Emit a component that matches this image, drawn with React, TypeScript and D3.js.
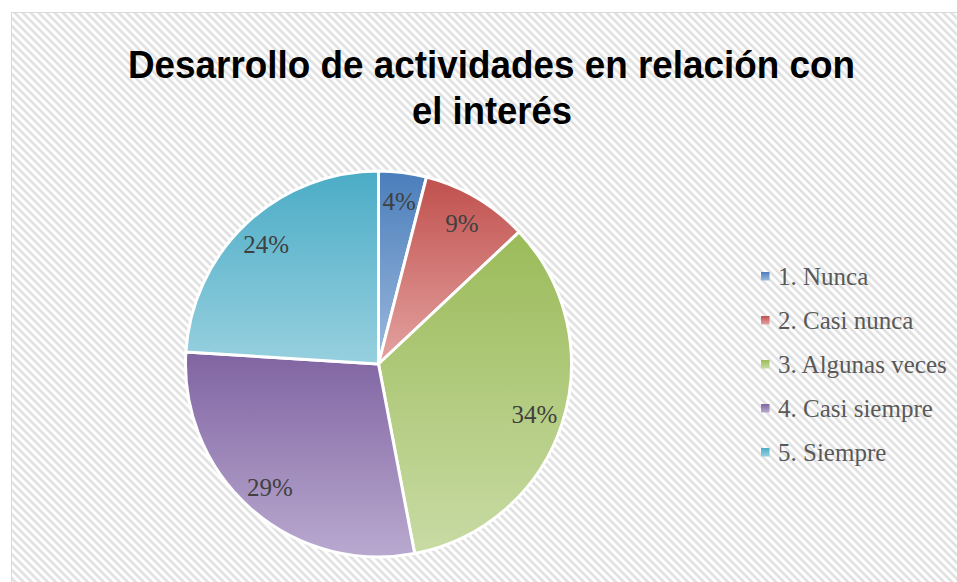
import React from "react";
import * as d3 from "d3";

const categories = ["1. Nunca", "2. Casi nunca", "3. Algunas veces", "4. Casi siempre", "5. Siempre"];
const values = [4, 9, 34, 29, 24];
const topColors = ["#4a7ebb", "#c0504d", "#9bbb59", "#8064a2", "#4bacc6"];
const bottomColors = ["#9db9dd", "#e4a3a1", "#c8dba4", "#b9a9cf", "#97d0df"];
const titleLines = ["Desarrollo de actividades en relación con", "el interés"];

const W = 957;
const H = 582;

export default function App() {
  const cx = 378.5;
  const cy = 364;
  const R = 193;
  const pie = d3.pie<number>().sort(null).value((d) => d);
  const arcs = pie(values);
  const arc = d3.arc<d3.PieArcDatum<number>>().innerRadius(0).outerRadius(R);
  const labelArc = d3.arc<d3.PieArcDatum<number>>().innerRadius(R * 0.85).outerRadius(R * 0.85);
  const total = d3.sum(values);
  const legendY = d3.scaleBand<number>().domain(d3.range(categories.length)).range([254.5, 474.5]);

  return (
    <svg width={W} height={H} style={{ position: "absolute", left: 0, top: 0, display: "block" }}>
      <defs>
        <pattern id="hatch" patternUnits="userSpaceOnUse" width={5.66} height={5.66} patternTransform="rotate(-45)">
          <rect x={0} y={0} width={5.66} height={5.66} fill="#ffffff" />
          <rect x={0} y={0} width={2.6} height={5.66} fill="#e0e0e0" />
        </pattern>
        {values.map((_, i) => (
          <linearGradient key={i} id={`g${i}`} x1="0" y1="0" x2="0" y2="1">
            <stop offset="0" stopColor={topColors[i]} />
            <stop offset="1" stopColor={bottomColors[i]} />
          </linearGradient>
        ))}
      </defs>
      <rect x={0} y={0} width={W} height={H} fill="#ffffff" />
      <rect x={11.5} y={12.5} width={W + 10} height={H + 10} fill="url(#hatch)" stroke="#d9d9d9" strokeWidth={1} />
      <g fontFamily="'Liberation Sans', Arial, sans-serif" fontWeight="bold" fill="#000000" textAnchor="middle">
        <text x={491.5} y={78} fontSize={38} textLength={727} lengthAdjust="spacingAndGlyphs">{titleLines[0]}</text>
        <text x={492} y={124} fontSize={38} textLength={160} lengthAdjust="spacingAndGlyphs">{titleLines[1]}</text>
      </g>
      <g transform={`translate(${cx},${cy})`}>
        {arcs.map((a, i) => (
          <path key={i} d={arc(a) || ""} fill={`url(#g${i})`} stroke="#ffffff" strokeWidth={3} strokeLinejoin="round" />
        ))}
        {arcs.map((a, i) => {
          const [x, y] = labelArc.centroid(a);
          return (
            <text key={i} x={x} y={y} dy="0.35em" textAnchor="middle" fontFamily="'Liberation Serif', 'DejaVu Serif', serif" fontSize={25} fill="#404040">
              {`${Math.round((values[i] / total) * 100)}%`}
            </text>
          );
        })}
      </g>
      <g fontFamily="'Liberation Serif', 'DejaVu Serif', serif" fontSize={25} fill="#595959">
        {categories.map((c, i) => {
          const y = (legendY(i) || 0) + legendY.bandwidth() / 2;
          return (
            <g key={i}>
              <rect x={761} y={y - 4.5} width={8.5} height={8.5} fill={`url(#g${i})`} />
              <text x={778} y={y} dy="0.33em">{c}</text>
            </g>
          );
        })}
      </g>
    </svg>
  );
}
